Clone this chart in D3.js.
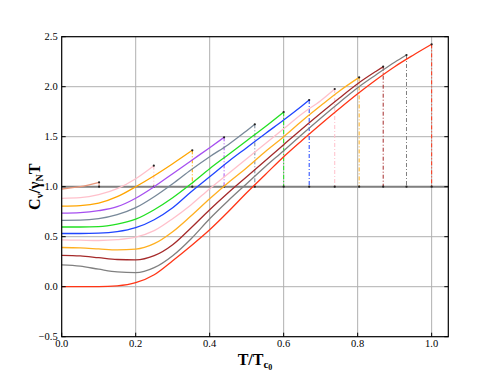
<!doctype html>
<html>
<head>
<meta charset="utf-8">
<title>Cv / gamma T</title>
<script src="https://cdn.jsdelivr.net/npm/d3@7"></script>
<style>
body { margin: 0; background: #fff; }
text { font-family: "Liberation Serif", "DejaVu Serif", serif; }
</style>
</head>
<body>
<div id="chart-area"></div>
<script>
// grid of T/Tc0 where the curves were read
var tGrid = [0, 0.05, 0.1, 0.15, 0.2, 0.25, 0.3, 0.35, 0.4, 0.45, 0.5, 0.55, 0.6, 0.65, 0.7, 0.75, 0.8, 0.85, 0.9, 0.95, 1.0];

// transition temperature of each curve and Cv/gT just below it
var tcValues = [0.101, 0.249, 0.353, 0.439, 0.522, 0.6, 0.669, 0.738, 0.804, 0.869, 0.932, 1.0];
var cvAtTc = [1.044, 1.21, 1.364, 1.494, 1.624, 1.747, 1.867, 1.977, 2.093, 2.20, 2.317, 2.424];
var curveColors = ["#e9967a", "#ffc0cb", "#ffa500", "#a64ff0", "#778899", "#22e022", "#1f45ff", "#ffc0cb", "#ffb020", "#a52a2a", "#808080", "#ff3516"];

// Cv/gT on tGrid, below each Tc
var cvCurves = [
    [0.977, 1.0],
    [0.884, 0.89, 0.92, 0.98, 1.08],
    [0.805, 0.81, 0.835, 0.9, 1.0, 1.11, 1.23],
    [0.735, 0.74, 0.76, 0.80, 0.885, 1.0, 1.13, 1.26, 1.39],
    [0.664, 0.665, 0.68, 0.72, 0.79, 0.9, 1.03, 1.17, 1.3, 1.42, 1.56],
    [0.597, 0.597, 0.60, 0.625, 0.675, 0.77, 0.89, 1.03, 1.18, 1.32, 1.46, 1.60],
    [0.532, 0.532, 0.535, 0.55, 0.59, 0.67, 0.79, 0.95, 1.1, 1.25, 1.39, 1.53, 1.667, 1.81],
    [0.468, 0.465, 0.462, 0.47, 0.495, 0.56, 0.68, 0.82, 0.98, 1.13, 1.28, 1.43, 1.58, 1.73, 1.86],
    [0.392, 0.388, 0.378, 0.368, 0.375, 0.43, 0.55, 0.71, 0.88, 1.04, 1.19, 1.35, 1.50, 1.66, 1.81, 1.955],
    [0.314, 0.308, 0.29, 0.272, 0.268, 0.31, 0.42, 0.59, 0.77, 0.94, 1.10, 1.26, 1.42, 1.58, 1.735, 1.885, 2.03, 2.155],
    [0.218, 0.205, 0.175, 0.148, 0.14, 0.19, 0.31, 0.48, 0.68, 0.86, 1.03, 1.20, 1.36, 1.525, 1.685, 1.84, 1.99, 2.12, 2.245],
    [0, 0, 0, 0.008, 0.04, 0.12, 0.26, 0.41, 0.57, 0.75, 0.94, 1.12, 1.30, 1.465, 1.625, 1.78, 1.93, 2.07, 2.20, 2.315]
];

var xTicks = [0, 0.2, 0.4, 0.6, 0.8, 1.0];
var yTicks = [-0.5, 0, 0.5, 1.0, 1.5, 2.0, 2.5];
var normalLevel = 1.0;

var margin = { left: 61.7, right: 49.7, top: 36.7, bottom: 37.3 };
var width = 498 - margin.left - margin.right,
    height = 374 - margin.top - margin.bottom;

var svg = d3.select("#chart-area").append("svg")
    .attr("width", 498).attr("height", 374);
var g = svg.append("g")
    .attr("transform", "translate(" + margin.left + "," + margin.top + ")");

var x = d3.scaleLinear().domain([0, 1.045]).range([0, width]);
var y = d3.scaleLinear().domain([-0.5, 2.5]).range([height, 0]);

// grid
g.selectAll(".vgrid").data(xTicks.slice(1)).enter().append("line")
    .attr("x1", function(d){ return x(d); }).attr("x2", function(d){ return x(d); })
    .attr("y1", 0).attr("y2", height)
    .attr("stroke", "#b0b0b0").attr("stroke-width", 1);
g.selectAll(".hgrid").data(yTicks.slice(1, -1)).enter().append("line")
    .attr("x1", 0).attr("x2", width)
    .attr("y1", function(d){ return y(d); }).attr("y2", function(d){ return y(d); })
    .attr("stroke", "#b0b0b0").attr("stroke-width", 1);

// normal state level
g.append("line")
    .attr("x1", 0).attr("x2", width)
    .attr("y1", y(normalLevel)).attr("y2", y(normalLevel))
    .attr("stroke", "#808080").attr("stroke-width", 2);

var line = d3.line()
    .x(function(d){ return x(d[0]); })
    .y(function(d){ return y(d[1]); })
    .curve(d3.curveMonotoneX);

cvCurves.forEach(function(vals, i){
    var pts = vals.map(function(v, j){ return [tGrid[j], v]; });
    pts.push([tcValues[i], cvAtTc[i]]);

    g.append("path").datum(pts)
        .attr("d", line)
        .attr("fill", "none")
        .attr("stroke", curveColors[i])
        .attr("stroke-width", 1.3);

    // jump at Tc
    g.append("line")
        .attr("x1", x(tcValues[i])).attr("x2", x(tcValues[i]))
        .attr("y1", y(cvAtTc[i])).attr("y2", y(normalLevel))
        .attr("stroke", curveColors[i])
        .attr("stroke-width", 1)
        .attr("stroke-dasharray", "4,2,1,2");

    [cvAtTc[i], normalLevel].forEach(function(c){
        g.append("circle")
            .attr("cx", x(tcValues[i])).attr("cy", y(c))
            .attr("r", 1.1).attr("fill", "#222");
    });
});

// frame
g.append("rect").attr("width", width).attr("height", height)
    .attr("fill", "none").attr("stroke", "#000").attr("stroke-width", 1.2);

// ticks inside
g.selectAll(".xt").data(xTicks).enter().append("line")
    .attr("x1", function(d){ return x(d); }).attr("x2", function(d){ return x(d); })
    .attr("y1", height).attr("y2", height - 4).attr("stroke", "#000");
g.selectAll(".yt").data(yTicks).enter().append("line")
    .attr("x1", 0).attr("x2", 4)
    .attr("y1", function(d){ return y(d); }).attr("y2", function(d){ return y(d); }).attr("stroke", "#000");
g.selectAll(".yt2").data(yTicks).enter().append("line")
    .attr("x1", width).attr("x2", width - 4)
    .attr("y1", function(d){ return y(d); }).attr("y2", function(d){ return y(d); }).attr("stroke", "#000");

// tick labels
g.selectAll(".xl").data(xTicks).enter().append("text")
    .attr("x", function(d){ return x(d); }).attr("y", height + 10.5)
    .attr("text-anchor", "middle").attr("font-size", "10.5px")
    .text(function(d){ return d3.format(".1f")(d); });
g.selectAll(".yl").data(yTicks).enter().append("text")
    .attr("x", -4).attr("y", function(d){ return y(d) + 3.5; })
    .attr("text-anchor", "end").attr("font-size", "10.5px")
    .text(function(d){ return d3.format(".1f")(d).replace("-", "\u2212"); });

// axis labels
var xLabel = g.append("text")
    .attr("x", width / 2).attr("y", height + 28.5)
    .attr("text-anchor", "middle").attr("font-size", "16px").attr("font-weight", "bold");
xLabel.append("tspan").text("T/T");
xLabel.append("tspan").attr("font-size", "11px").attr("dy", 3).text("c");
xLabel.append("tspan").attr("font-size", "8px").attr("dy", 2).text("0");

var yLabel = g.append("text")
    .attr("transform", "translate(-22," + (height / 2) + ") rotate(-90)")
    .attr("text-anchor", "middle").attr("font-size", "16px").attr("font-weight", "bold");
yLabel.append("tspan").text("C");
yLabel.append("tspan").attr("font-size", "10px").attr("dy", 3).text("v");
yLabel.append("tspan").attr("dy", -3).text("/\u03b3");
yLabel.append("tspan").attr("font-size", "10px").attr("dy", 3).text("N");
yLabel.append("tspan").attr("dy", -3).text("T");
</script>
</body>
</html>
